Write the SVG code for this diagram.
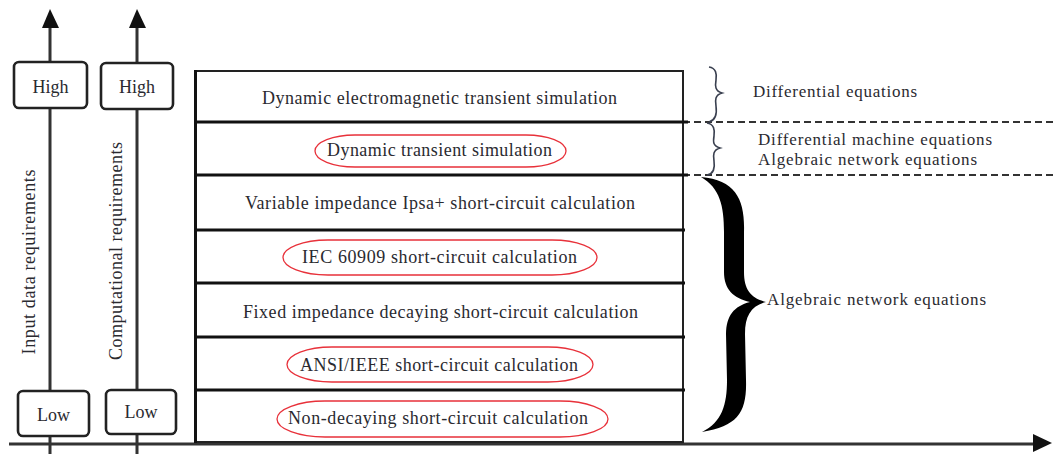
<svg xmlns="http://www.w3.org/2000/svg" width="1057" height="454" viewBox="0 0 1057 454">
<style>
.t{font-family:"Liberation Serif","Times New Roman",serif;font-size:18px;fill:#2a2a30}
.m{text-anchor:middle}
.ax{stroke:#333;stroke-width:3;fill:none}
.lvl{fill:#fff;stroke:#222;stroke-width:2.6}
.row{fill:#fff;stroke:none}
.sep{stroke:#111;stroke-width:3}
.ov{fill:none;stroke:#e8313a;stroke-width:1.3}
.dash{stroke:#333;stroke-width:2;stroke-dasharray:7 4}
.br{fill:none;stroke:#3a4050;stroke-width:1.6}
.lab{font-family:"Liberation Serif","Times New Roman",serif;font-size:17px;fill:#2a2a30}
</style>
<defs>
<marker id="ah" markerWidth="10" markerHeight="10" refX="9" refY="5" orient="auto" markerUnits="userSpaceOnUse">
<path d="M0,0 L10,5 L0,10 Z" fill="#111"/>
</marker>
</defs>
<rect width="1057" height="454" fill="#fff"/>

<g id="connectors">
<line class="ax" x1="9" y1="444" x2="1034" y2="444"/>
<path d="M1033,434 L1052,443 L1033,452 Z" fill="#111"/>
<line class="ax" x1="50" y1="454" x2="50" y2="26"/>
<path d="M42,28 L50,9 L59,28 Z" fill="#111"/>
<line class="ax" x1="137" y1="454" x2="137" y2="26"/>
<path d="M129,28 L137,9 L146,28 Z" fill="#111"/>
<line class="dash" x1="683" y1="122" x2="1057" y2="122"/>
<line class="dash" x1="683" y1="175" x2="1057" y2="175"/>
</g>

<g id="axis-labels">
<text class="t m" transform="translate(35,262) rotate(-90)" textLength="185" lengthAdjust="spacing">Input data requirements</text>
<text class="t m" transform="translate(122,251) rotate(-90)" textLength="218" lengthAdjust="spacing">Computational requirements</text>
</g>

<g id="high-input">
<rect class="lvl" x="14" y="62" width="73" height="46" rx="5"/>
<text class="t m" x="50.5" y="93">High</text>
</g>
<g id="high-comp">
<rect class="lvl" x="101" y="63" width="72" height="46" rx="5"/>
<text class="t m" x="137" y="93">High</text>
</g>
<g id="low-input">
<rect class="lvl" x="18" y="391" width="71" height="45" rx="5"/>
<text class="t m" x="53.5" y="421">Low</text>
</g>
<g id="low-comp">
<rect class="lvl" x="106" y="390" width="70" height="44" rx="5"/>
<text class="t m" x="141" y="418">Low</text>
</g>

<g id="stack">
<rect x="195" y="71" width="488" height="371" fill="#fff" stroke="#222" stroke-width="2"/>
<line x1="195.5" y1="70" x2="195.5" y2="443" stroke="#111" stroke-width="3"/>
<line class="sep" x1="195" y1="122" x2="688" y2="122"/>
<line class="sep" x1="195" y1="175" x2="688" y2="175"/>
<line class="sep" x1="195" y1="230" x2="685" y2="230"/>
<line class="sep" x1="195" y1="283" x2="685" y2="283"/>
<line class="sep" x1="195" y1="337" x2="685" y2="337"/>
<line class="sep" x1="195" y1="390" x2="685" y2="390"/>
</g>

<g id="row-emt">
<text class="t m" x="439.5" y="104" textLength="355" lengthAdjust="spacing">Dynamic electromagnetic transient simulation</text>
</g>
<g id="row-dts">
<rect class="ov" x="315" y="135" width="251" height="32" rx="40" ry="16"/>
<text class="t m" x="439.5" y="156" textLength="225" lengthAdjust="spacing">Dynamic transient simulation</text>
</g>
<g id="row-ipsa">
<text class="t m" x="440" y="209" textLength="390" lengthAdjust="spacing">Variable impedance Ipsa+ short-circuit calculation</text>
</g>
<g id="row-iec">
<rect class="ov" x="283" y="240" width="314" height="35" rx="45" ry="17.5"/>
<text class="t m" x="439.5" y="263" textLength="275" lengthAdjust="spacing">IEC 60909 short-circuit calculation</text>
</g>
<g id="row-fixed">
<text class="t m" x="440.5" y="318" textLength="395" lengthAdjust="spacing">Fixed impedance decaying short-circuit calculation</text>
</g>
<g id="row-ansi">
<rect class="ov" x="287" y="347" width="306" height="35" rx="45" ry="17.5"/>
<text class="t m" x="439" y="371" textLength="278" lengthAdjust="spacing">ANSI/IEEE short-circuit calculation</text>
</g>
<g id="row-nondecay">
<rect class="ov" x="277" y="401" width="331" height="36" rx="48" ry="18"/>
<text class="t m" x="438" y="424" textLength="300" lengthAdjust="spacing">Non-decaying short-circuit calculation</text>
</g>

<g id="brace-diff">
<path class="br" d="M709,67 C716,68 717,74 716,80 C715,86 715,91 722,93 C715,95 715,100 716,106 C717,113 716,120 709,122"/>
<text class="lab" x="753" y="97" textLength="164" lengthAdjust="spacing">Differential equations</text>
</g>
<g id="brace-mixed">
<path class="br" d="M707,123 C714,124 715,130 714,136 C713,142 713,146 720,148 C713,150 713,155 714,161 C715,168 714,174 707,175"/>
<text class="lab" x="758" y="145" textLength="234" lengthAdjust="spacing">Differential machine equations</text>
<text class="lab" x="758" y="165" textLength="219" lengthAdjust="spacing">Algebraic network equations</text>
</g>
<g id="brace-alg">
<path fill="#000" d="M701,177 C736,180 745,200 744,232 L744,272 C744,290 751,298 766,302 C751,306 745,316 745,334 L746,380 C747,412 738,426 702,432 C722,422 727,405 727,380 L726,334 C726,316 734,306 750,302 C733,298 724,289 724,272 L724,232 C724,206 720,188 701,177 Z"/>
<text class="lab" x="767" y="305" textLength="219" lengthAdjust="spacing">Algebraic network equations</text>
</g>
</svg>
